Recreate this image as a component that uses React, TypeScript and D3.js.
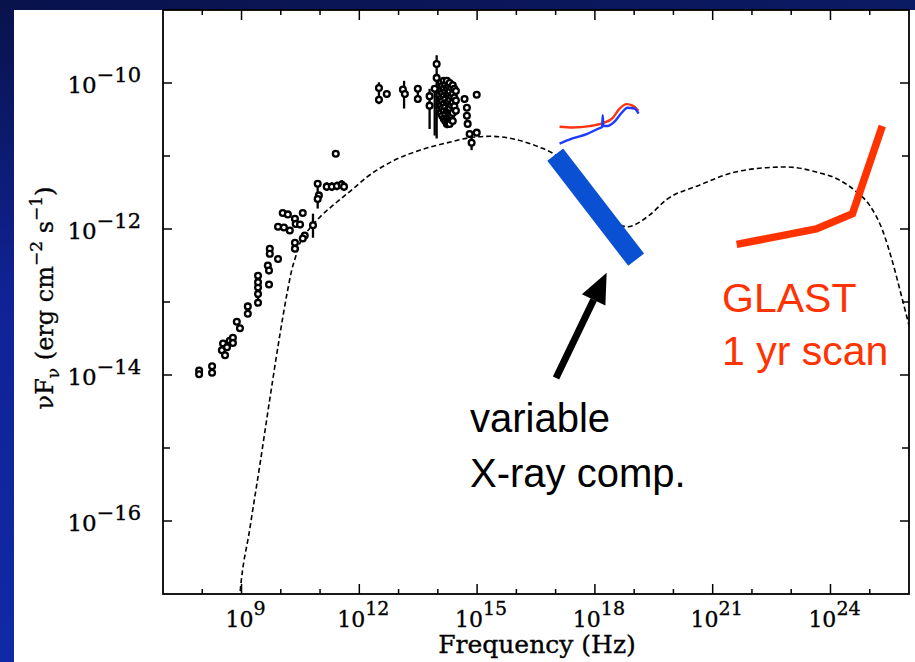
import React from "react";
import * as d3 from "d3";

const W = 915;
const H = 662;

// Frequency axis (log10 Hz) and flux axis (log10 erg cm^-2 s^-1) extents
const xExtent = [7, 26];
const yExtent = [-17, -9];
const xLabelExps = [9, 12, 15, 18, 21, 24];
const yLabelExps = [-10, -12, -14, -16];

// Synchrotron + inverse-Compton model curve
const modelLogNu = [8.9, 8.96, 9.21, 9.47, 9.72, 9.98, 10.16, 10.28, 10.39, 10.49, 10.74, 10.99, 11.43, 11.84, 12.19, 12.85, 13.54, 14.23, 14.81, 15.32, 15.96, 16.59, 16.92, 17.87, 18.81, 19.39, 19.82, 20.66, 21.5, 22.37, 22.88, 23.64, 24.23, 24.66, 24.99, 25.32, 25.58, 25.8, 26.0];
const modelLogFlux = [-17.4, -17.0, -16.11, -15.22, -14.33, -13.44, -12.88, -12.56, -12.36, -12.19, -11.99, -11.84, -11.63, -11.45, -11.29, -11.07, -10.92, -10.82, -10.75, -10.73, -10.77, -10.88, -10.96, -11.44, -11.97, -11.81, -11.6, -11.4, -11.23, -11.16, -11.15, -11.22, -11.33, -11.49, -11.67, -12.01, -12.45, -12.9, -13.32];

// Archival radio - optical photometry
const obsLogNu = [
  7.92, 7.92, 8.25, 8.25, 8.53, 8.5, 8.58, 8.63, 8.7, 8.78, 8.78, 8.88, 8.96, 9.16, 9.16,
  9.42, 9.42, 9.42, 9.42, 9.42, 9.7, 9.67, 9.7, 9.72, 9.72, 9.93, 10.36, 10.36, 10.61, 10.56,
  10.56, 10.05, 10.18, 10.36, 10.38, 9.93, 10.08, 10.23, 10.49, 10.82, 10.94, 10.97, 10.94,
  11.17, 11.3, 11.43, 11.55, 11.61, 11.4, 12.5, 12.5, 12.7, 13.11, 13.16, 13.49, 13.49,
  13.97, 13.97, 13.79, 13.79, 13.92,
  14.07, 14.07, 14.07, 14.07, 14.07,
  14.11, 14.11, 14.11, 14.11, 14.11,
  14.15, 14.15, 14.15, 14.15, 14.15, 14.15,
  14.19, 14.19, 14.19, 14.19, 14.19, 14.19,
  14.23, 14.23, 14.23, 14.23, 14.23, 14.23, 14.23,
  14.27, 14.27, 14.27, 14.27, 14.27, 14.27,
  14.3, 14.3, 14.3, 14.3, 14.3, 14.3,
  14.34, 14.34, 14.34, 14.34,
  14.38, 14.38, 14.38, 14.38, 14.38,
  14.42, 14.42, 14.42,
  14.46, 14.46, 14.46,
  14.68, 14.74, 14.74, 14.76, 14.81, 14.86, 14.99, 14.99,
];
const obsLogFlux = [
  -13.94, -13.99, -13.88, -13.97, -13.57, -13.66, -13.73, -13.62, -13.53, -13.49, -13.56, -13.27, -13.36, -13.06, -13.16,
  -13.01, -12.89, -12.8, -12.73, -12.64, -12.76, -12.5, -12.57, -12.27, -12.34, -12.41, -12.19, -12.27, -12.09, -12.13,
  -11.78, -11.78, -11.8, -11.86, -11.93, -11.97, -11.98, -12.02, -11.94, -11.95, -11.38, -11.54, -11.59,
  -11.42, -11.42, -11.41, -11.39, -11.42, -10.97, -10.07, -10.23, -10.15, -10.09, -10.15, -10.08, -10.22,
  -9.74, -9.93, -10.18, -10.31, -10.08,
  -10.0, -10.11, -10.22, -10.31, -10.41,
  -10.04, -10.14, -10.25, -10.35, -10.45,
  -9.97, -10.08, -10.18, -10.29, -10.38, -10.49,
  -10.02, -10.12, -10.22, -10.33, -10.43, -10.52,
  -9.97, -10.07, -10.16, -10.27, -10.38, -10.48, -10.56,
  -10.04, -10.14, -10.25, -10.36, -10.46, -10.54,
  -10.0, -10.11, -10.22, -10.34, -10.45, -10.56,
  -10.06, -10.18, -10.3, -10.44,
  -10.03, -10.15, -10.27, -10.41, -10.52,
  -10.08, -10.2, -10.32,
  -10.11, -10.24, -10.38,
  -10.22, -10.34, -10.45, -10.56, -10.7, -10.82, -10.16, -10.68,
];

// Vertical error bars (log10 nu, lower and upper log10 flux)
const errLogNu = [9.42, 10.82, 10.94, 11.17, 11.3, 11.43, 11.55, 11.61, 12.5, 12.7, 13.14, 13.49, 13.79, 13.92, 13.97, 14.07, 14.09, 14.11, 14.13, 14.15, 14.17, 14.19, 14.21, 14.23, 14.25, 14.27, 14.3, 14.32, 14.34, 14.36, 14.38, 14.46, 14.86];
const errLogLo = [-13.05, -12.12, -11.72, -11.48, -11.48, -11.47, -11.45, -11.48, -10.29, -10.2, -10.35, -10.27, -10.63, -10.72, -10.76, -10.47, -10.48, -10.5, -10.52, -10.56, -10.57, -10.58, -10.6, -10.62, -10.61, -10.6, -10.6, -10.59, -10.58, -10.58, -10.57, -10.44, -10.92];
const errLogHi = [-12.7, -11.79, -11.36, -11.36, -11.36, -11.35, -11.33, -11.36, -9.99, -10.1, -9.97, -10.03, -10.08, -10.08, -9.62, -9.97, -9.96, -9.95, -9.94, -9.94, -9.93, -9.93, -9.94, -9.94, -9.94, -9.95, -9.97, -9.97, -9.98, -9.99, -10.0, -10.06, -10.72];

// Two X-ray spectra (red, blue)
const xrayRedLogNu = [17.1, 17.43, 17.87, 18.2, 18.45, 18.63, 18.81, 18.96, 19.11];
const xrayRedLogFlux = [-10.6, -10.61, -10.59, -10.55, -10.48, -10.35, -10.29, -10.31, -10.38];
const xrayBlueLogNu = [17.1, 17.43, 17.79, 18.07, 18.185, 18.2, 18.215, 18.32, 18.5, 18.68, 18.83, 19.01, 19.11];
const xrayBlueLogFlux = [-10.83, -10.76, -10.7, -10.63, -10.6, -10.44, -10.59, -10.59, -10.53, -10.41, -10.34, -10.35, -10.42];

// Variable X-ray component (power-law band)
const varLogNu = [16.99, 19.05];
const varLogFlux = [-10.98, -12.42];

// GLAST one-year sensitivity
const glastLogNu = [21.61, 23.64, 24.56, 25.32];
const glastLogFlux = [-12.21, -12.0, -11.79, -10.59];

// Pointer toward the variable component
const arrowLogNu = [17.01, 18.3];
const arrowLogFlux = [-14.04, -12.6];

const M = { left: 163, right: 909, top: 10, bottom: 594 };

const x = d3.scaleLog().domain([10 ** xExtent[0], 10 ** xExtent[1]]).range([M.left, M.right]);
const y = d3.scaleLog().domain([10 ** yExtent[0], 10 ** yExtent[1]]).range([M.bottom, M.top]);

const px = (e: number) => x(10 ** e);
const py = (e: number) => y(10 ** e);

const lineOf = (nu: number[], f: number[], curve: d3.CurveFactory) =>
  d3
    .line<number>()
    .x((i) => px(nu[i]))
    .y((i) => py(f[i]))
    .curve(curve)(d3.range(nu.length)) || "";

const SERIF = "'DejaVu Serif', serif";
const SANS = "'Liberation Sans', Arial, sans-serif";

export default function App() {
  const xTicks = d3.range(xExtent[0] + 1, xExtent[1]);
  const yTicks = d3.range(yExtent[0] + 1, yExtent[1]);

  // arrow geometry from data
  const ax0 = px(arrowLogNu[0]);
  const ay0 = py(arrowLogFlux[0]);
  const ax1 = px(arrowLogNu[1]);
  const ay1 = py(arrowLogFlux[1]);
  const ang = Math.atan2(ay1 - ay0, ax1 - ax0);
  const headLen = 30;
  const headHalf = 13;
  const bx = ax1 - headLen * Math.cos(ang);
  const by = ay1 - headLen * Math.sin(ang);
  const nx = -Math.sin(ang);
  const ny = Math.cos(ang);
  const head = [
    [ax1, ay1],
    [bx + headHalf * nx, by + headHalf * ny],
    [bx - headHalf * nx, by - headHalf * ny],
  ]
    .map((p) => p.join(","))
    .join(" ");

  return (
    <svg
      width={W}
      height={H}
      viewBox={`0 0 ${W} ${H}`}
      style={{ position: "fixed", left: 0, top: 0, display: "block" }}
    >
      <defs>
        <linearGradient id="sideBand" x1="0" y1="0" x2="0" y2="1">
          <stop offset="0" stopColor="#09124a" />
          <stop offset="0.45" stopColor="#0f2396" />
          <stop offset="1" stopColor="#1029a6" />
        </linearGradient>
        <linearGradient id="topBand" x1="0" y1="0" x2="1" y2="0">
          <stop offset="0" stopColor="#09124c" />
          <stop offset="1" stopColor="#0b1a64" />
        </linearGradient>
        <clipPath id="plotClip">
          <rect x={M.left} y={M.top} width={M.right - M.left} height={M.bottom - M.top} />
        </clipPath>
      </defs>

      <rect x={0} y={0} width={W} height={H} fill="#ffffff" />
      <rect x={0} y={0} width={W} height={10} fill="url(#topBand)" />
      <rect x={0} y={0} width={14} height={H} fill="url(#sideBand)" />

      {/* model */}
      <g clipPath="url(#plotClip)">
        <path
          d={lineOf(modelLogNu, modelLogFlux, d3.curveMonotoneX)}
          fill="none"
          stroke="#000"
          strokeWidth={1.6}
          strokeDasharray="5,3"
        />
      </g>

      {/* observed points */}
      <g stroke="#000" strokeWidth={2.3}>
        {errLogNu.map((nu, i) => (
          <line key={`e${i}`} x1={px(nu)} x2={px(nu)} y1={py(errLogLo[i])} y2={py(errLogHi[i])} />
        ))}
        {obsLogNu.map((nu, i) => (
          <circle key={`o${i}`} cx={px(nu)} cy={py(obsLogFlux[i])} r={2.9} fill="#fff" />
        ))}
      </g>

      {/* X-ray spectra */}
      <path d={lineOf(xrayRedLogNu, xrayRedLogFlux, d3.curveMonotoneX)} fill="none" stroke="#ff3214" strokeWidth={2.4} />
      <path d={lineOf(xrayBlueLogNu, xrayBlueLogFlux, d3.curveMonotoneX)} fill="none" stroke="#1e3cff" strokeWidth={2.4} />

      {/* variable X-ray component */}
      <path d={lineOf(varLogNu, varLogFlux, d3.curveLinear)} fill="none" stroke="#0a50d2" strokeWidth={20} strokeLinecap="butt" />

      {/* GLAST sensitivity */}
      <path
        d={lineOf(glastLogNu, glastLogFlux, d3.curveLinear)}
        fill="none"
        stroke="#ff3300"
        strokeWidth={7.5}
        strokeLinejoin="miter"
        strokeLinecap="butt"
      />

      {/* arrow */}
      <line x1={ax0} y1={ay0} x2={bx} y2={by} stroke="#000" strokeWidth={7} />
      <polygon points={head} fill="#000" />

      {/* frame and ticks */}
      <rect
        x={M.left}
        y={M.top}
        width={M.right - M.left}
        height={M.bottom - M.top}
        fill="none"
        stroke="#000"
        strokeWidth={1.8}
      />
      <g stroke="#000" strokeWidth={1.5}>
        {xTicks.map((e) => {
          const len = e % 3 === 0 ? 10 : 5;
          const xx = px(e);
          return (
            <g key={`xt${e}`}>
              <line x1={xx} x2={xx} y1={M.bottom} y2={M.bottom - len} />
              <line x1={xx} x2={xx} y1={M.top} y2={M.top + len} />
            </g>
          );
        })}
        {yTicks.map((e) => {
          const len = e % 2 === 0 ? 9 : 7;
          const yy = py(e);
          return (
            <g key={`yt${e}`}>
              <line x1={M.left} x2={M.left + len} y1={yy} y2={yy} />
              <line x1={M.right} x2={M.right - len} y1={yy} y2={yy} />
            </g>
          );
        })}
      </g>

      {/* tick labels */}
      <g fontFamily={SERIF} fill="#000" stroke="#000" strokeWidth={0.35}>
        {xLabelExps.map((e) => (
          <text key={`xl${e}`} x={px(e) + 4} y={627} textAnchor="middle" fontSize={22}>
            10
            <tspan dy={-12} fontSize={19}>
              {e}
            </tspan>
          </text>
        ))}
        {yLabelExps.map((e) => (
          <text key={`yl${e}`} x={141} y={py(e) + 10} textAnchor="end" fontSize={23}>
            10
            <tspan dy={-11} fontSize={21}>
              {`\u2212${-e}`}
            </tspan>
          </text>
        ))}
        <text x={537} y={653} textAnchor="middle" fontSize={25}>
          Frequency (Hz)
        </text>
        <text transform="translate(53,298) rotate(-90)" textAnchor="middle" fontSize={24}>
          {"\u03bdF"}
          <tspan dy={6} fontSize={17}>
            {"\u03bd"}
          </tspan>
          <tspan dy={-6}>{" (erg cm"}</tspan>
          <tspan dy={-11} fontSize={17}>
            {"\u22122"}
          </tspan>
          <tspan dy={11}>{" s"}</tspan>
          <tspan dy={-11} fontSize={17}>
            {"\u22121"}
          </tspan>
          <tspan dy={11}>{")"}</tspan>
        </text>
      </g>

      {/* annotations */}
      <g fontFamily={SANS}>
        <text x={470} y={432} fontSize={40} fill="#000">
          variable
        </text>
        <text x={470} y={487} fontSize={40} fill="#000">
          X-ray comp.
        </text>
        <text x={722} y={312} fontSize={41} fill="#ff3300">
          GLAST
        </text>
        <text x={722} y={365} fontSize={41} fill="#ff3300">
          1 yr scan
        </text>
      </g>
    </svg>
  );
}
